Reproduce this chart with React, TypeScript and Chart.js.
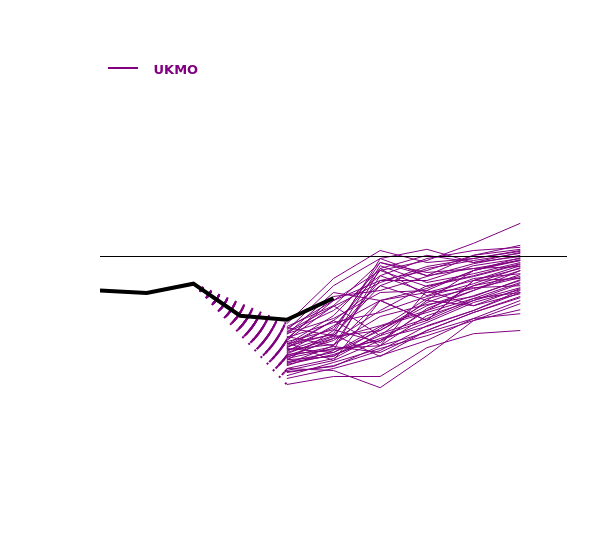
import { useEffect, useRef } from "react";
import { Chart, registerables } from "chart.js";

Chart.register(...registerables);

const PURPLE = "#800080";

// observed index (days 0-5)
const obsDays = [0, 1, 2, 3, 4, 5];
const obsValues = [-0.85, -0.91, -0.68, -1.48, -1.58, -1.04];

// ensemble forecast days and members
const forecastDays = [4, 5, 6, 7, 8, 9];
const members: number[][] = [
  [-1.68, -0.55, 0.15, -0.15, -0.05, 0.15],
  [-1.85, -0.73, -0.05, 0.18, -0.15, 0],
  [-2.05, -1.1, -0.35, -0.1, 0.33, 0.83],
  [-1.75, -1.23, -0.15, -0.48, 0.03, 0.28],
  [-2.23, -1.6, -0.73, -0.3, -0.1, 0.08],
  [-2.35, -1.98, -0.6, -0.6, -0.23, -0.05],
  [-1.93, -1.55, -0.9, -0.85, -0.35, -0.1],
  [-2.48, -2.1, -1.35, -0.73, -0.48, -0.18],
  [-2.6, -1.85, -0.15, -0.4, -0.3, -0.25],
  [-2.15, -2.6, -1.1, -1.6, -0.6, -0.3],
  [-2.3, -2.4, -1.85, -1.23, -0.85, -0.35],
  [-2.73, -2.35, -0.3, -0.98, -0.55, -0.43],
  [-2.85, -2.6, -2.1, -1.35, -0.73, -0.5],
  [-2.0, -2.23, -1.1, -1.6, -0.6, -0.55],
  [-2.4, -2.05, -1.73, -1.35, -0.98, -0.6],
  [-2.55, -2.3, -2.23, -1.48, -1.1, -0.68],
  [-2.65, -2.48, -1.98, -1.6, -1.1, -0.78],
  [-2.1, -1.23, -1.98, -1.1, -1.23, -0.8],
  [-2.9, -2.73, -2.35, -1.73, -1.35, -0.85],
  [-2.28, -1.6, -2.23, -0.85, -1.23, -0.93],
  [-2.5, -2.25, -2.4, -1.85, -1.4, -1.03],
  [-2.8, -2.85, -3.28, -2.48, -1.6, -1.33],
  [-3.2, -3.0, -3.0, -2.28, -1.93, -1.85],
  [-3.05, -2.8, -2.48, -2.1, -1.55, -1.43],
  [-2.98, -2.65, -2.3, -1.98, -1.6, -1.18],
  [-1.8, -1.1, -0.6, -0.35, 0.03, 0.18],
  [-1.9, -1.35, -0.48, -0.05, 0.15, 0.23],
  [-2.2, -1.48, -0.3, 0.03, -0.15, 0.1],
  [-2.08, -1.0, -0.85, -0.5, -0.18, 0.03],
  [-2.38, -1.73, -1.1, -0.8, -0.35, -0.03],
  [-2.25, -1.93, -0.05, -0.48, -0.3, -0.1],
  [-2.53, -2.05, -0.23, -0.65, -0.43, -0.15],
  [-2.68, -2.23, -0.48, -0.9, -0.6, -0.23],
  [-2.03, -1.65, -1.4, -1.0, -0.68, -0.28],
  [-2.43, -2.0, -1.85, -1.15, -0.73, -0.35],
  [-2.13, -1.83, -2.15, -1.3, -0.85, -0.45],
  [-2.58, -2.5, -1.8, -1.05, -0.8, -0.53],
  [-2.33, -2.2, -1.5, -1.2, -1.0, -0.58],
  [-2.8, -2.55, -1.93, -1.55, -1.05, -0.65],
  [-1.95, -0.9, -1.1, -0.9, -0.78, -0.73],
  [-2.45, -2.33, -2.1, -1.65, -1.15, -0.83],
  [-2.63, -2.4, -1.75, -1.4, -1.05, -0.9],
  [-2.18, -1.95, -2.5, -1.85, -1.4, -1.0],
  [-2.88, -2.75, -2.23, -1.9, -1.55, -1.1],
  [-1.78, -1.98, -0.73, -1.1, -0.35, -0.08],
  [-1.88, -1.25, -0.65, -0.25, -0.05, 0.13],
  [-2.28, -1.78, -0.35, -0.75, -0.5, -0.2],
  [-2.7, -2.45, -2.05, -1.75, -1.35, -0.9],
];

// dotted links run from the last analysed day to each member's first day
const linkFromDay = 2;
const zeroLineDays = [0, 10];

const App: React.FC = () => {
  const chartRef = useRef<HTMLCanvasElement | null>(null);

  useEffect(() => {
    if (!chartRef.current) return;

    const obsPoints = obsDays.map((d, i) => ({ x: d, y: obsValues[i] }));
    const linkStart = obsValues[obsDays.indexOf(linkFromDay)];

    const memberSets = members.map((m, i) => ({
      label: "UKMO " + (i + 1),
      data: forecastDays.map((d, j) => ({ x: d, y: m[j] })),
      borderColor: PURPLE,
      backgroundColor: PURPLE,
      borderWidth: 1,
      pointRadius: 0,
    }));

    const linkSets = members.map((m, i) => ({
      label: "link " + (i + 1),
      data: [
        { x: linkFromDay, y: linkStart },
        { x: forecastDays[0], y: m[0] },
      ],
      borderColor: PURPLE,
      borderWidth: 2,
      borderDash: [2, 7],
      pointRadius: 0,
    }));

    // legend swatch: short line sitting a little above the text centre
    const swatch = document.createElement("canvas");
    swatch.width = 30;
    swatch.height = 8;
    const sctx = swatch.getContext("2d");
    if (sctx) {
      sctx.fillStyle = PURPLE;
      sctx.fillRect(0, 0, 30, 2);
    }

    const ctx = chartRef.current.getContext("2d");
    if (!ctx) return;

    const myChart = new Chart(ctx, {
      type: "line",
      data: {
        datasets: [
          {
            label: "Observed",
            data: obsPoints,
            borderColor: "#000000",
            borderWidth: 4,
            pointRadius: 0,
          },
          {
            label: "zero",
            data: zeroLineDays.map((d) => ({ x: d, y: 0 })),
            borderColor: "#000000",
            borderWidth: 1,
            pointRadius: 0,
          },
          ...memberSets,
          ...linkSets,
        ],
      },
      options: {
        responsive: false,
        animation: false,
        layout: { padding: { left: 100, right: 33, top: 56.5, bottom: 114.5 } },
        scales: {
          x: { type: "linear", min: 0, max: 10, display: false },
          y: { type: "linear", min: -4.225, max: 4.225, display: false },
        },
        plugins: {
          tooltip: { enabled: false },
          legend: {
            display: true,
            position: "top",
            align: "start",
            labels: {
              usePointStyle: true,
              pointStyleWidth: 30,
              padding: 8,
              color: PURPLE,
              font: { family: "DejaVu Sans", size: 13, weight: "bold" },
              generateLabels: () => [
                {
                  text: "  UKMO",
                  fillStyle: PURPLE,
                  strokeStyle: PURPLE,
                  fontColor: PURPLE,
                  lineWidth: 0,
                  pointStyle: swatch,
                  hidden: false,
                  datasetIndex: 2,
                },
              ],
            },
          },
        },
      },
    });
    return () => myChart.destroy();
  }, []);

  return (
    <div style={{ position: "absolute", left: 0, top: 0, width: 600, height: 540, background: "#ffffff" }}>
      <canvas ref={chartRef} width={600} height={540} />
    </div>
  );
};

export default App;
